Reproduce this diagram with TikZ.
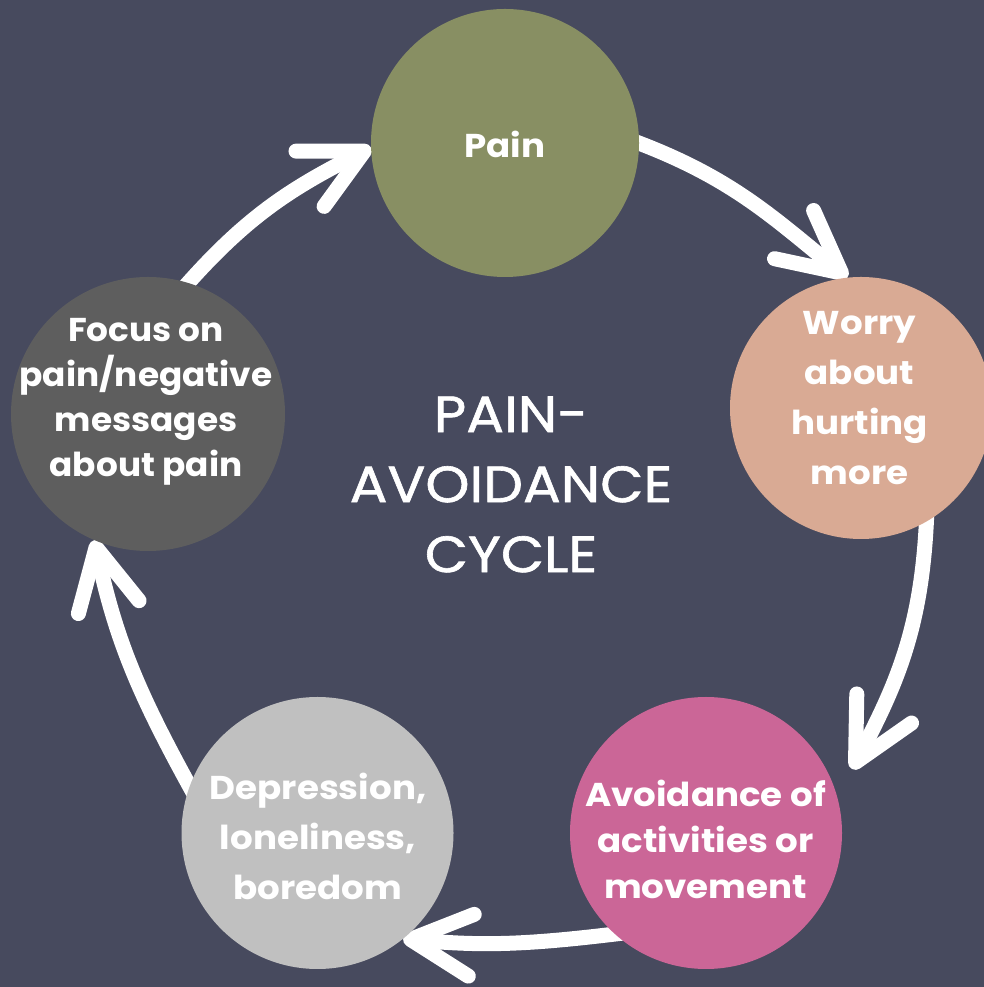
\documentclass[tikz,border=0pt]{standalone}
\usepackage{fontspec}
\setmainfont{Poppins}
\newfontfamily\titlefont[FakeStretch=1.1, FakeBold=1.2]{Poppins}
\newfontfamily\boldfont[FakeStretch=1.08]{Poppins}
\newfontfamily\focusfont[FakeStretch=1.04]{Poppins}
\usetikzlibrary{arrows.meta}
\pgfdeclarelayer{back}
\pgfsetlayers{back,main}
\definecolor{bgc}{RGB}{71,74,94}
\definecolor{painc}{RGB}{136,143,99}
\definecolor{worryc}{RGB}{217,170,148}
\definecolor{avoidc}{RGB}{203,102,151}
\definecolor{deprc}{RGB}{192,192,192}
\definecolor{focusc}{RGB}{94,94,94}
\begin{document}
\begin{tikzpicture}[x=1pt,y=1pt,
  bubble/.style={circle, draw=none, inner sep=0pt, outer sep=0pt, minimum size=#1},
  txt/.style={text=white, align=center, inner sep=0pt},
  cyc/.style={draw=white, line width=15pt, line cap=round, shorten <=-12pt,
    -{Straight Barb[length=61pt,width=62pt,round]}}]
\useasboundingbox (0,0) rectangle (984,987);
% circles
\node[bubble=268pt, fill=painc]  (pain)  at (505,844) {};
\node[bubble=262pt, fill=worryc] (worry) at (861,579) {};
\node[bubble=272pt, fill=avoidc] (avoid) at (706,154) {};
\node[bubble=272pt, fill=deprc]  (depr)  at (317.5,154) {};
\node[bubble=274pt, fill=focusc] (focus) at (148,573) {};
% texts
\node[txt, font=\boldfont\fontsize{33}{48}\selectfont\bfseries] (paintxt) at (505,843) {Pain};
\node[txt, font=\boldfont\fontsize{33}{50}\selectfont\bfseries] (worrytxt) at (859.5,588.5) {Worry\\about\\hurting\\more};
\node[txt, font=\boldfont\fontsize{33}{46}\selectfont\bfseries] (avoidtxt) at (705.5,148) {Avoidance of\\activities or\\movement};
\node[txt, font=\boldfont\fontsize{33}{50}\selectfont\bfseries] (deprtxt) at (318,150.5) {Depression,\\loneliness,\\boredom};
\node[txt, font=\focusfont\fontsize{33}{45}\selectfont\bfseries] (focustxt) at (146,585.5) {Focus on\\pain/negative\\messages\\about pain};
\node[txt, font=\titlefont\fontsize{51}{70}\selectfont] (title) at (511,502.5) {PAIN-\\AVOIDANCE\\CYCLE};
\coordinate (tip2) at (852,218);
\begin{pgfonlayer}{back}
\fill[bgc] (0,0) rectangle (984,987);
\draw[cyc] (pain.0) to[out=-20,in=141] (worry.96);
\draw[cyc] (worry.-60) to[out=-92,in=62] (tip2);
\draw[cyc] (avoid.228) to[out=187,in=-5.5] (depr.-51);
\draw[cyc] (depr.160) to[out=119,in=-78] (focus.247);
\draw[cyc] (focus.73) to[out=49,in=207] (pain.182);
\end{pgfonlayer}
\end{tikzpicture}
\end{document}
